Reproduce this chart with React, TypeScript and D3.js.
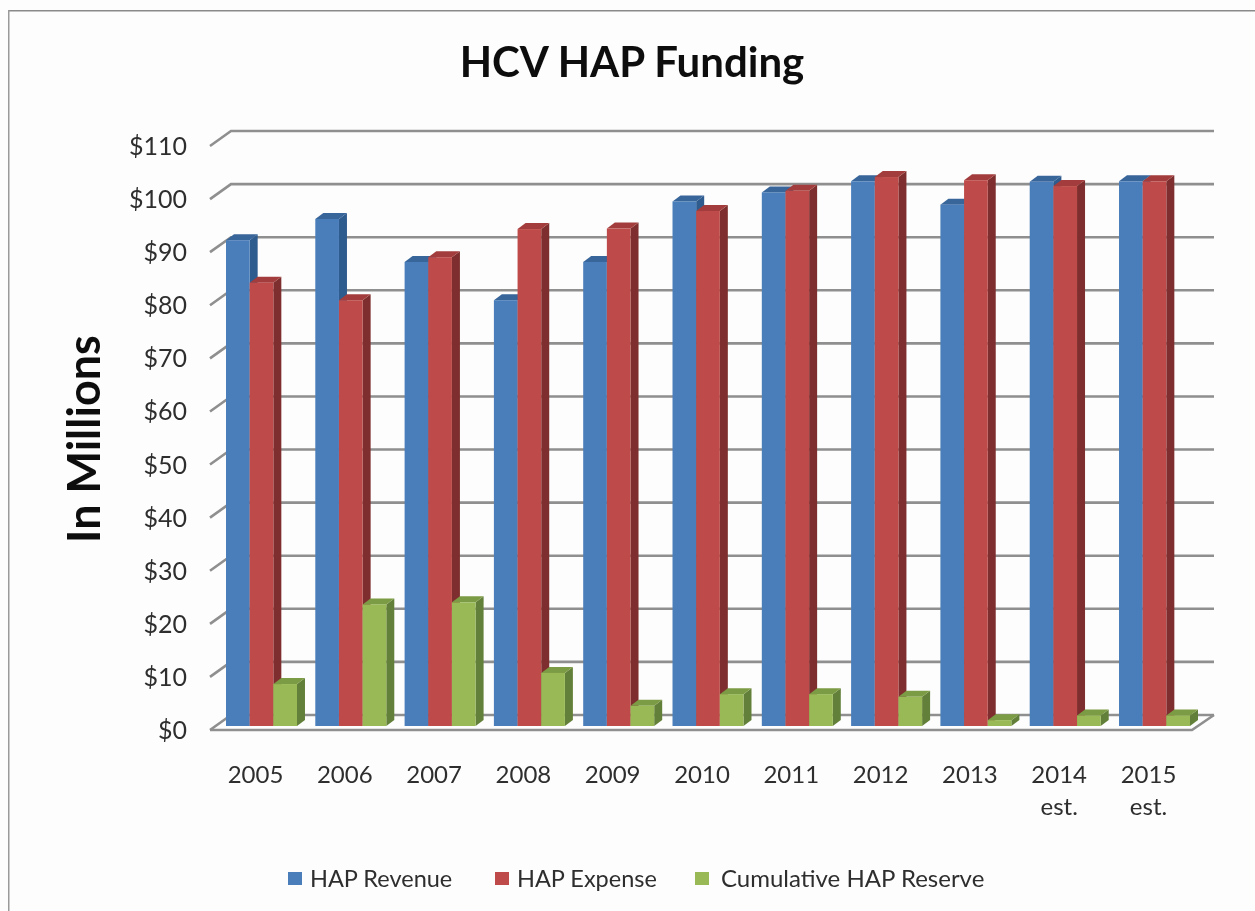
import React from "react";
import { scaleBand, scaleLinear, range } from "d3";

const years = ["2005", "2006", "2007", "2008", "2009", "2010", "2011", "2012", "2013", "2014", "2015"];
const notes = ["", "", "", "", "", "", "", "", "", "est.", "est."];
const revenue = [91.5, 95.5, 87.4, 80.2, 87.4, 98.8, 100.5, 102.6, 98.2, 102.5, 102.6];
const expense = [83.5, 80.2, 88.3, 93.6, 93.7, 97, 100.8, 103.4, 102.8, 101.7, 102.6];
const reserve = [7.9, 22.9, 23.3, 10, 3.8, 6, 6, 5.5, 1.1, 2, 2];
const seriesNames = ["HAP Revenue", "HAP Expense", "Cumulative HAP Reserve"];
const seriesValues = [revenue, expense, reserve];
const front = ["#4a7ebb", "#be4b48", "#98b954"];
const side = ["#2f5b8e", "#7e2f2d", "#64803a"];
const top = ["#38659a", "#a33e3c", "#7c9b44"];
const legendX = [288, 495, 695];
const legendTextX = [310, 517, 721];

const W = 1255;
const H = 911;
const font = "Lato, 'Open Sans', sans-serif";
const textColor = "#2e2e2e";
const gridColor = "#8f8f8f";

// fake 3d offsets
const depthX = 8;
const depthY = 6;
const wallX = 21;
const wallBack = 11;
const wallFront = 4;

const y = scaleLinear().domain([0, 110]).range([726, 142]);
const x = scaleBand().domain(years).range([226, 1190]).paddingInner(0.205);
const inner = scaleBand().domain(seriesNames).range([0, x.bandwidth()]);

const App = () => {
  const floorY = y(0);
  return (
    <svg width={W} height={H} style={{ position: "absolute", left: 0, top: 0, background: "#fdfdfd" }}>
      <defs>
        <filter id="soft" x="0" y="0" width="100%" height="100%">
          <feGaussianBlur stdDeviation="0.5" />
        </filter>
      </defs>
      <g filter="url(#soft)">
        <line x1={8} x2={W} y1={10} y2={10} stroke="#8a8a8a" strokeWidth={3} />
        <line x1={8} x2={8} y1={10} y2={H} stroke="#9a9a9a" strokeWidth={3} />

        <text x={632} y={77} textAnchor="middle" fontFamily={font} fontWeight={700} fontSize={42} fill="#111">
          HCV HAP Funding
        </text>
        <text
          transform="translate(100,439) rotate(-90)"
          textAnchor="middle"
          fontFamily={font}
          fontWeight={700}
          fontSize={45}
          fill="#111"
        >
          In Millions
        </text>

        {/* walls */}
        {y.ticks(11).map((t) => (
          <g key={t}>
            <polyline
              points={`210,${y(t) + wallFront} ${210 + wallX},${y(t) - wallBack} 1214,${y(t) - wallBack}`}
              fill="none"
              stroke={gridColor}
              strokeWidth={2.6}
            />
            <text
              x={187}
              y={y(t) + wallFront + 9}
              textAnchor="end"
              fontFamily={font}
              fontSize={25}
              fill={textColor}
            >
              ${t}
            </text>
          </g>
        ))}
        <polyline
          points={`210,${floorY + wallFront} 1192,${floorY + wallFront} 1214,${floorY - wallBack}`}
          fill="none"
          stroke={gridColor}
          strokeWidth={2.6}
        />

        {/* bars */}
        {years.map((year, i) => (
          <g key={year}>
            {seriesNames.map((name, s) => {
              const v = seriesValues[s][i];
              const x0 = (x(year) as number) + (inner(name) as number);
              const x1 = x0 + inner.bandwidth();
              const yt = y(v);
              return (
                <g key={name}>
                  <polygon
                    points={`${x1},${yt} ${x1 + depthX},${yt - depthY} ${x1 + depthX},${floorY - depthY} ${x1},${floorY}`}
                    fill={side[s]}
                  />
                  <polygon
                    points={`${x0},${yt} ${x0 + depthX},${yt - depthY} ${x1 + depthX},${yt - depthY} ${x1},${yt}`}
                    fill={top[s]}
                  />
                  <rect x={x0} y={yt} width={inner.bandwidth()} height={floorY - yt} fill={front[s]} />
                </g>
              );
            })}
          </g>
        ))}

        {/* category labels */}
        {range(years.length).map((i) => {
          const cx = (x(years[i]) as number) + x.bandwidth() / 2 - 6;
          return (
            <g key={years[i]} textAnchor="middle" fontFamily={font} fontSize={24} fill={textColor}>
              <text x={cx} y={783}>{years[i]}</text>
              {notes[i] && <text x={cx} y={815}>{notes[i]}</text>}
            </g>
          );
        })}

        {/* legend */}
        {seriesNames.map((name, s) => (
          <g key={name}>
            <rect x={legendX[s]} y={872} width={14} height={13} fill={front[s]} />
            <text x={legendTextX[s]} y={887} fontFamily={font} fontSize={s === 2 ? 24 : 23.5} fill={textColor}>
              {name}
            </text>
          </g>
        ))}
      </g>
    </svg>
  );
};

export default App;
